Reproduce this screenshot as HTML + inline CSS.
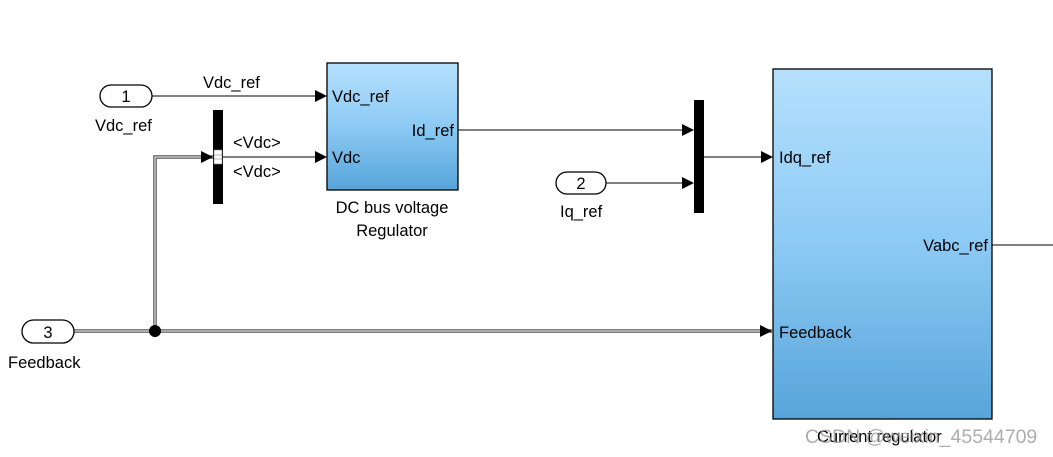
<!DOCTYPE html>
<html><head><meta charset="utf-8"><style>
html,body{margin:0;padding:0;background:#fff;width:1053px;height:457px;overflow:hidden}
text{font-family:"Liberation Sans",sans-serif;font-size:16.5px;fill:#000}
</style></head><body>
<svg width="1053" height="457" xmlns="http://www.w3.org/2000/svg">
<defs>
<linearGradient id="g" x1="0" y1="0" x2="0" y2="1">
<stop offset="0" stop-color="#b5e0fd"/><stop offset="0.5" stop-color="#8ccaf4"/><stop offset="1" stop-color="#57a4da"/>
</linearGradient>
<marker id="a" markerWidth="12" markerHeight="12" refX="11" refY="6" orient="auto" markerUnits="userSpaceOnUse">
<path d="M0,0 L12,6 L0,12 z" fill="#000"/></marker>
</defs>
<rect x="100" y="85" width="52" height="22" rx="11" fill="#fff" stroke="#000" stroke-width="1.3"/>
<text x="126" y="102" text-anchor="middle">1</text>
<text x="95" y="131">Vdc_ref</text>
<line x1="152" y1="96" x2="326" y2="96" stroke="#000" stroke-width="1" marker-end="url(#a)"/>
<text x="203" y="88">Vdc_ref</text>
<rect x="327" y="63" width="131" height="127" fill="url(#g)" stroke="#000" stroke-width="1.3"/>
<text x="332" y="102">Vdc_ref</text>
<text x="332" y="163">Vdc</text>
<text x="454" y="136" text-anchor="end">Id_ref</text>
<text x="392" y="213" text-anchor="middle">DC bus voltage</text>
<text x="392" y="236" text-anchor="middle">Regulator</text>
<rect x="213" y="110" width="10" height="94" fill="#000"/>
<rect x="214" y="150" width="8" height="14" fill="#fff" stroke="#888" stroke-width="0.6"/>
<line x1="214" y1="155" x2="222" y2="155" stroke="#888" stroke-width="0.6"/>
<line x1="214" y1="159" x2="222" y2="159" stroke="#888" stroke-width="0.6"/>
<line x1="223" y1="157" x2="326" y2="157" stroke="#000" stroke-width="1" marker-end="url(#a)"/>
<text x="233" y="148">&lt;Vdc&gt;</text>
<text x="233" y="177">&lt;Vdc&gt;</text>
<path d="M74,331 L772,331" stroke="#555" stroke-width="3.5" fill="none"/>
<path d="M74,331 L772,331" stroke="#fff" stroke-width="1" fill="none"/>
<path d="M155,331 L155,157 L213,157" stroke="#555" stroke-width="3.5" fill="none"/>
<path d="M155,331 L155,157 L213,157" stroke="#fff" stroke-width="1" fill="none"/>
<path d="M201,151 L213,157 L201,163 z" fill="#000"/>
<path d="M760,325 L772,331 L760,337 z" fill="#000"/>
<circle cx="155" cy="331" r="6" fill="#000"/>
<rect x="22" y="320" width="52" height="23" rx="11.5" fill="#fff" stroke="#000" stroke-width="1.3"/>
<text x="48" y="338" text-anchor="middle">3</text>
<text x="8" y="368">Feedback</text>
<line x1="458" y1="130" x2="693" y2="130" stroke="#000" stroke-width="1" marker-end="url(#a)"/>
<rect x="694" y="100" width="10" height="113" fill="#000"/>
<rect x="556" y="172" width="50" height="22" rx="11" fill="#fff" stroke="#000" stroke-width="1.3"/>
<text x="581" y="189" text-anchor="middle">2</text>
<text x="560" y="217">Iq_ref</text>
<line x1="606" y1="183" x2="693" y2="183" stroke="#000" stroke-width="1" marker-end="url(#a)"/>
<line x1="704" y1="157" x2="772" y2="157" stroke="#000" stroke-width="1" marker-end="url(#a)"/>
<rect x="773" y="69" width="219" height="350" fill="url(#g)" stroke="#000" stroke-width="1.3"/>
<text x="779" y="163">Idq_ref</text>
<text x="779" y="338">Feedback</text>
<text x="988" y="251" text-anchor="end">Vabc_ref</text>
<line x1="992" y1="245" x2="1053" y2="245" stroke="#000" stroke-width="1"/>
<text x="817" y="442">Current regulator</text>
<text x="805" y="443" style="fill:#999;font-size:19.5px;opacity:0.8">CSDN @weixin_45544709</text>
</svg>
</body></html>
